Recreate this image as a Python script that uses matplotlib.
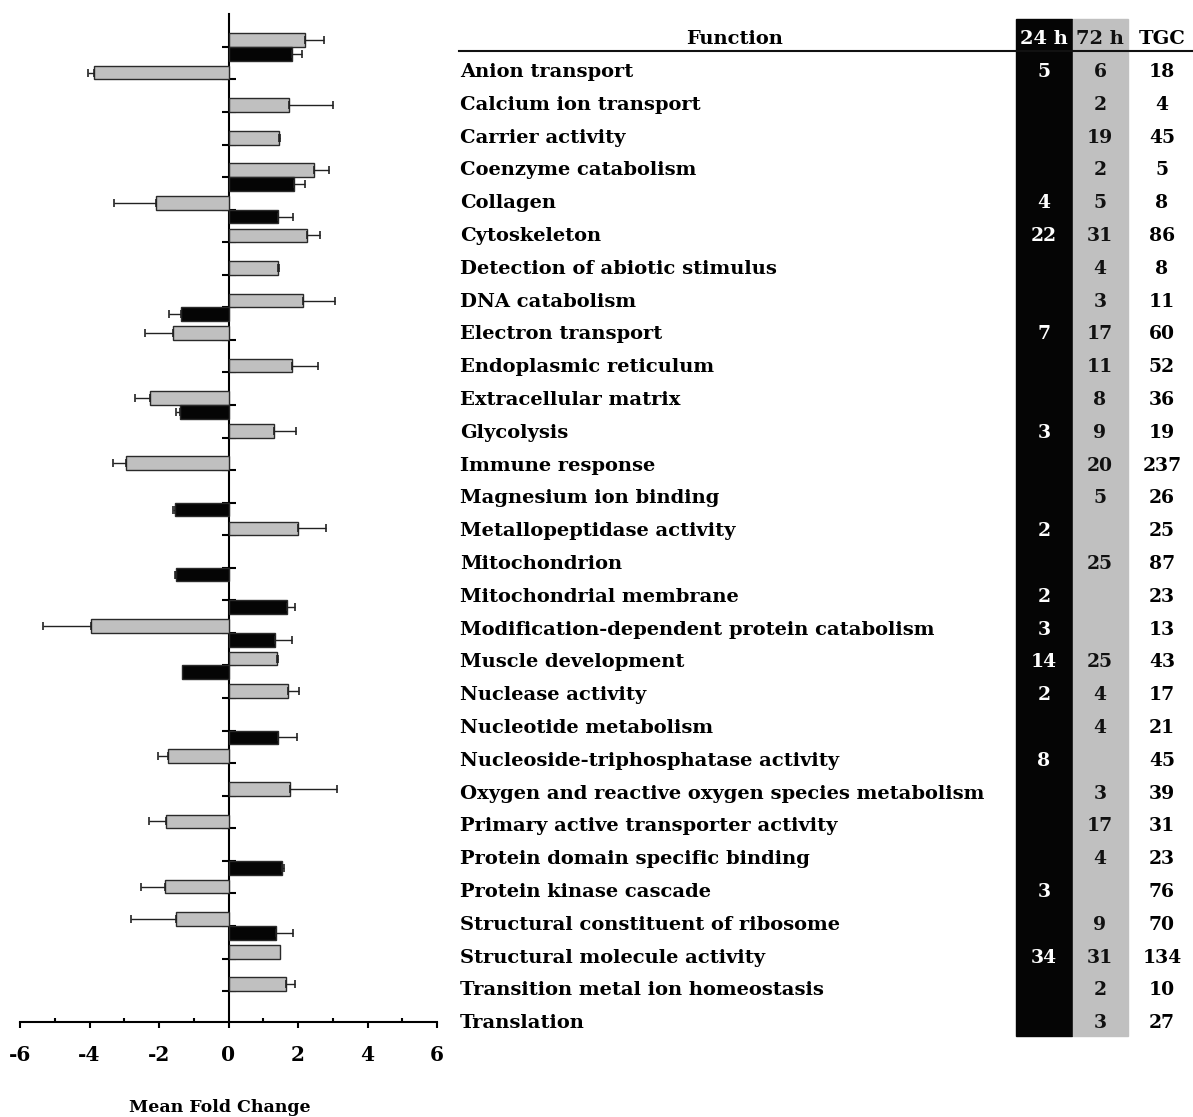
import matplotlib

matplotlib.use("Agg")

import matplotlib.pyplot as plt
from matplotlib.patches import Rectangle

# the reference uses a wide, bold serif face
plt.rcParams["font.family"] = ["DejaVu Serif"]
plt.rcParams["font.weight"] = "bold"

# functional categories (top to bottom)
functions = [
    "Anion transport", "Calcium ion transport", "Carrier activity",
    "Coenzyme catabolism", "Collagen", "Cytoskeleton",
    "Detection of abiotic stimulus", "DNA catabolism", "Electron transport",
    "Endoplasmic reticulum", "Extracellular matrix", "Glycolysis",
    "Immune response", "Magnesium ion binding", "Metallopeptidase activity",
    "Mitochondrion", "Mitochondrial membrane",
    "Modification-dependent protein catabolism", "Muscle development",
    "Nuclease activity", "Nucleotide metabolism",
    "Nucleoside-triphosphatase activity",
    "Oxygen and reactive oxygen species metabolism",
    "Primary active transporter activity", "Protein domain specific binding",
    "Protein kinase cascade", "Structural constituent of ribosome",
    "Structural molecule activity", "Transition metal ion homeostasis",
    "Translation",
]

# mean fold change (None = no bar) and error
fc_72h = [2.21, -3.88, 1.75, 1.45, 2.45, -2.10, 2.25, 1.43, 2.14, -1.60,
          1.83, -2.27, 1.32, -2.96, None, 1.99, None, None, -3.95, 1.40,
          1.71, None, -1.74, 1.77, -1.81, None, -1.84, -1.52, 1.49, 1.66]
err_72h = [0.55, 0.16, 1.27, 0.03, 0.45, 1.20, 0.39, 0.03, 0.93, 0.80,
           0.74, 0.41, 0.62, 0.36, None, 0.81, None, None, 1.40, 0.03,
           0.33, None, 0.29, 1.34, 0.49, None, 0.69, 1.28, 0.0, 0.24]
fc_24h = [1.82, None, None, None, 1.89, 1.42, None, None, -1.36, None,
          None, -1.41, None, None, -1.55, None, -1.52, 1.68, 1.34, -1.34,
          None, 1.42, None, None, None, 1.53, None, 1.37, None, None]
err_24h = [0.30, None, None, None, 0.30, 0.45, None, None, 0.34, None,
           None, 0.09, None, None, 0.05, None, 0.03, 0.22, 0.50, 0.0,
           None, 0.55, None, None, None, 0.08, None, 0.50, None, None]

# gene counts table
count_24h = [5, None, None, None, 4, 22, None, None, 7, None, None, 3, None,
             None, 2, None, 2, 3, 14, 2, None, 8, None, None, None, 3, None,
             34, None, None]
count_72h = [6, 2, 19, 2, 5, 31, 4, 3, 17, 11, 8, 9, 20, 5, None, 25, None,
             None, 25, 4, 4, None, 3, 17, 4, None, 9, 31, 2, 3]
count_tgc = [18, 4, 45, 5, 8, 86, 8, 11, 60, 52, 36, 19, 237, 26, 25, 87, 23,
             13, 43, 17, 21, 45, 39, 31, 23, 76, 70, 134, 10, 27]

x_ticks = [-6, -4, -2, 0, 2, 4, 6]

W, H = 1193, 1117
GREY = "#c0c0c0"
BAR_H = 0.42
FS = 14
FS_NUM = 13.5

fig = plt.figure(figsize=(W / 100, H / 100), dpi=100)

# overlay in pixel coordinates for the table
tab = fig.add_axes([0, 0, 1, 1], zorder=0)
tab.set_xlim(0, W)
tab.set_ylim(H, 0)
tab.axis("off")

ax = fig.add_axes([20 / W, (H - 1022) / H, 417 / W, 1008 / H], zorder=1)
ax.patch.set_alpha(0)


def draw_series(values, errors, offset, color):
    for i, (v, e) in enumerate(zip(values, errors)):
        if v is None:
            continue
        y = i + offset
        ax.barh(y, v, height=BAR_H, color=color, edgecolor="#2a2a2a",
                linewidth=1.0, zorder=3)
        if e:
            xerr = [[0], [e]] if v > 0 else [[e], [0]]
            ax.errorbar(v, y, xerr=xerr, fmt="none", ecolor="#222222",
                        elinewidth=1.0, capsize=3, capthick=1.2, zorder=4)


draw_series(fc_72h, err_72h, -BAR_H / 2, GREY)
draw_series(fc_24h, err_24h, BAR_H / 2, "#050505")

n = len(functions)
ax.set_ylim(29.95, -1.01)
ax.set_xlim(-6, 6)
ax.spines["left"].set_position(("data", 0))
ax.spines["top"].set_visible(False)
ax.spines["right"].set_visible(False)
for s in ("left", "bottom"):
    ax.spines[s].set_linewidth(1.5)
ax.set_yticks(range(n))
ax.set_yticklabels([])
ax.tick_params(axis="y", direction="inout", length=10, width=1.5)
ax.set_xticks(x_ticks)
ax.set_xticklabels([str(t) for t in x_ticks], fontsize=14.5, fontweight="bold")
ax.set_xticks(range(-5, 6, 2), minor=True)
ax.tick_params(axis="x", which="major", direction="out", length=4.5,
               width=1.5, pad=12)
ax.tick_params(axis="x", which="minor", direction="in", length=3, width=1.5)

tab.text(220, 1108, "Mean Fold Change", ha="center", va="center",
         fontsize=12.5, fontweight="bold")

# table columns
tab.add_patch(Rectangle((1016, 19), 56, 1017, color="#050505", zorder=1))
tab.add_patch(Rectangle((1073, 19), 55, 1017, color=GREY, zorder=1))
tab.plot([459, W], [51, 51], color="#111111", linewidth=1.5, zorder=2)

head_y = 39
tab.text(735, head_y, "Function", ha="center", va="center", fontsize=FS)
tab.text(1044, head_y, "24 h", ha="center", va="center", fontsize=FS,
         color="white", zorder=3)
tab.text(1100, head_y, "72 h", ha="center", va="center", fontsize=FS,
         color="#111111", zorder=3)
tab.text(1162, head_y, "TGC", ha="center", va="center", fontsize=FS)

for j, name in enumerate(functions):
    y = 72 + 32.8 * j
    tab.text(460, y, name, ha="left", va="center", fontsize=FS)
    if count_24h[j] is not None:
        tab.text(1044, y, str(count_24h[j]), ha="center", va="center",
                 fontsize=FS_NUM, color="white", zorder=3)
    if count_72h[j] is not None:
        tab.text(1100, y, str(count_72h[j]), ha="center", va="center",
                 fontsize=FS_NUM, color="#111111", zorder=3)
    tab.text(1162, y, str(count_tgc[j]), ha="center", va="center",
             fontsize=FS_NUM)

fig.savefig("out.png", dpi=100)
